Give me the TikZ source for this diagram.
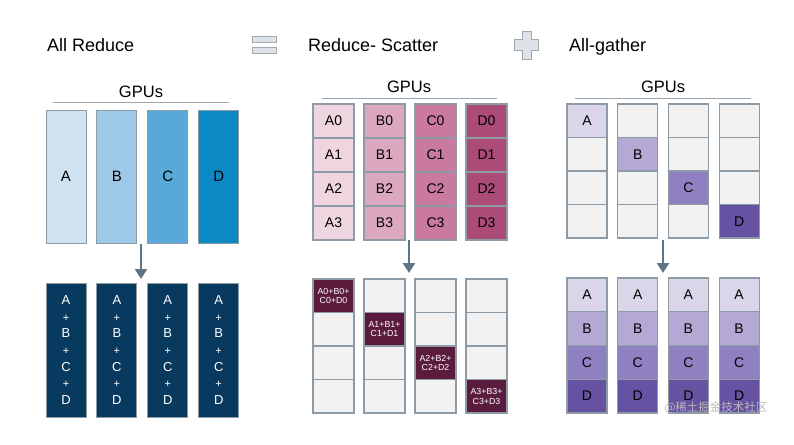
\documentclass[tikz,border=0pt]{standalone}
\usepackage{fontspec}
\setmainfont{Liberation Sans}
\newfontfamily\cjk{Noto Sans CJK SC}
\usetikzlibrary{arrows.meta}
\definecolor{blA}{HTML}{CFE2F2}
\definecolor{blB}{HTML}{9DC8E8}
\definecolor{blC}{HTML}{58A9D9}
\definecolor{blD}{HTML}{0A89C4}
\definecolor{navy}{HTML}{083A60}
\definecolor{pkA}{HTML}{EFD5E0}
\definecolor{pkB}{HTML}{DCA8BF}
\definecolor{pkC}{HTML}{C97A9E}
\definecolor{pkD}{HTML}{AD4B77}
\definecolor{maroon}{HTML}{5B1B3C}
\definecolor{puA}{HTML}{DBD5EA}
\definecolor{puB}{HTML}{B4A9D4}
\definecolor{puC}{HTML}{8E80C1}
\definecolor{puD}{HTML}{6552A2}
\definecolor{emptycell}{HTML}{F2F2F2}
\definecolor{cellborder}{HTML}{8D9BA6}
\definecolor{arrowgray}{HTML}{5E7585}
\definecolor{rulegray}{HTML}{9AA5AE}
\definecolor{iconfill}{HTML}{DDE3E8}
\definecolor{iconborder}{HTML}{A3A8AD}
\begin{document}
\begin{tikzpicture}[x=1pt,y=-1pt,
  title/.style={anchor=base west,inner sep=0pt,font=\fontsize{18}{18}\selectfont},
  gpus/.style={anchor=base,inner sep=0pt,font=\fontsize{16.5}{16.5}\selectfont},
  gpurule/.style={draw=rulegray,line width=1pt},
  bar/.style={draw=cellborder,line width=1pt,minimum width=40pt,inner sep=0pt},
  topbar/.style={bar,minimum height=133pt,font=\fontsize{15}{15}\selectfont},
  sumbar/.style={bar,fill=navy,minimum height=134pt,text=white,align=center,font=\fontsize{13}{16.7}\selectfont},
  cell/.style={draw=cellborder,line width=1.1pt,minimum width=41pt,inner sep=0pt,fill=emptycell,font=\fontsize{14}{14}\selectfont},
  sumcell/.style={cell,fill=maroon,text=white,align=center,font=\fontsize{8.8}{9.5}\selectfont},
  flow/.style={draw=arrowgray,line width=2.6pt,-{Triangle[width=12pt,length=10pt]}},
  icon/.style={draw=iconborder,fill=iconfill,line width=1pt}
]
\useasboundingbox (0,0) rectangle (794,444);

% ---------- titles and icons ----------
\node[title] (t1) at (47,52) {All Reduce};
\node[title] (t2) at (308,52) {Reduce- Scatter};
\node[title] (t3) at (569,52) {All-gather};
\draw[icon] (252,37) rectangle (276,43);
\draw[icon] (252,48) rectangle (276,54);
\draw[icon] (522,32) -- (531,32) -- (531,40) -- (538,40) -- (538,51) -- (531,51) -- (531,59) -- (522,59)
  -- (522,51) -- (514,51) -- (514,40) -- (522,40) -- cycle;

% ---------- All Reduce ----------
\node[gpus] (g1) at (141,97) {GPUs};
\draw[gpurule] (53,102) -- (229,102);
\foreach \l/\c [count=\i from 0] in {A/blA,B/blB,C/blC,D/blD}{
  \node[topbar,fill=\c] (ar\l) at (66+50.9*\i,176.5) {\l};
  \node[sumbar] (ars\l) at (66+50.9*\i,350)
    {A\\{\fontsize{11}{16.7}\selectfont+}\\B\\{\fontsize{11}{16.7}\selectfont+}\\C\\{\fontsize{11}{16.7}\selectfont+}\\D};
}
\coordinate (a1s) at (141,244);
\coordinate (a1e) at (141,279);
\draw[flow] (a1s) -- (a1e);

% ---------- Reduce-Scatter ----------
\node[gpus] (g2) at (409,92.7) {GPUs};
\draw[gpurule] (322,98) -- (497,98);
\foreach \l/\c [count=\i from 0] in {A/pkA,B/pkB,C/pkC,D/pkD}{
  \foreach \r in {0,1,2,3}{
    \node[cell,fill=\c,minimum height=34pt] (rs\l\r) at (333.5+51*\i,121+34*\r) {\l\r};
  }
}
\foreach \i in {0,1,2,3}{
  \foreach \r in {0,1,2,3}{
    \ifnum\i=\r
      \node[sumcell,minimum height=33.5pt] (rsb\i\r) at (333.5+51*\i,295.75+33.5*\r) {A\i+B\i+\\C\i+D\i};
    \else
      \node[cell,minimum height=33.5pt] (rsb\i\r) at (333.5+51*\i,295.75+33.5*\r) {};
    \fi
  }
}
\coordinate (a2s) at (409,240);
\coordinate (a2e) at (409,273);
\draw[flow] (a2s) -- (a2e);

% ---------- All-gather ----------
\node[gpus] (g3) at (663,92) {GPUs};
\draw[gpurule] (575,98) -- (751,98);
\foreach \l/\c [count=\i from 0] in {A/puA,B/puB,C/puC,D/puD}{
  \foreach \r in {0,1,2,3}{
    \ifnum\i=\r
      \node[cell,fill=\c,minimum width=40pt,minimum height=33.5pt] (ag\i\r) at (587+50.7*\i,120.75+33.5*\r) {\l};
    \else
      \node[cell,minimum width=40pt,minimum height=33.5pt] (ag\i\r) at (587+50.7*\i,120.75+33.5*\r) {};
    \fi
  }
}
\foreach \i in {0,1,2,3}{
  \foreach \l/\c [count=\r from 0] in {A/puA,B/puB,C/puC,D/puD}{
    \node[cell,fill=\c,minimum width=40pt,minimum height=33.75pt] (agb\i\r) at (587+50.7*\i,294.9+33.75*\r) {\l};
  }
}
\coordinate (a3s) at (663,240);
\coordinate (a3e) at (663,273);
\draw[flow] (a3s) -- (a3e);

% ---------- watermark ----------
\node[inner sep=0pt,text=gray!55,font=\cjk\fontsize{11.5}{11.5}\selectfont] (wm) at (716,408) {@稀土掘金技术社区};
\end{tikzpicture}
\end{document}
